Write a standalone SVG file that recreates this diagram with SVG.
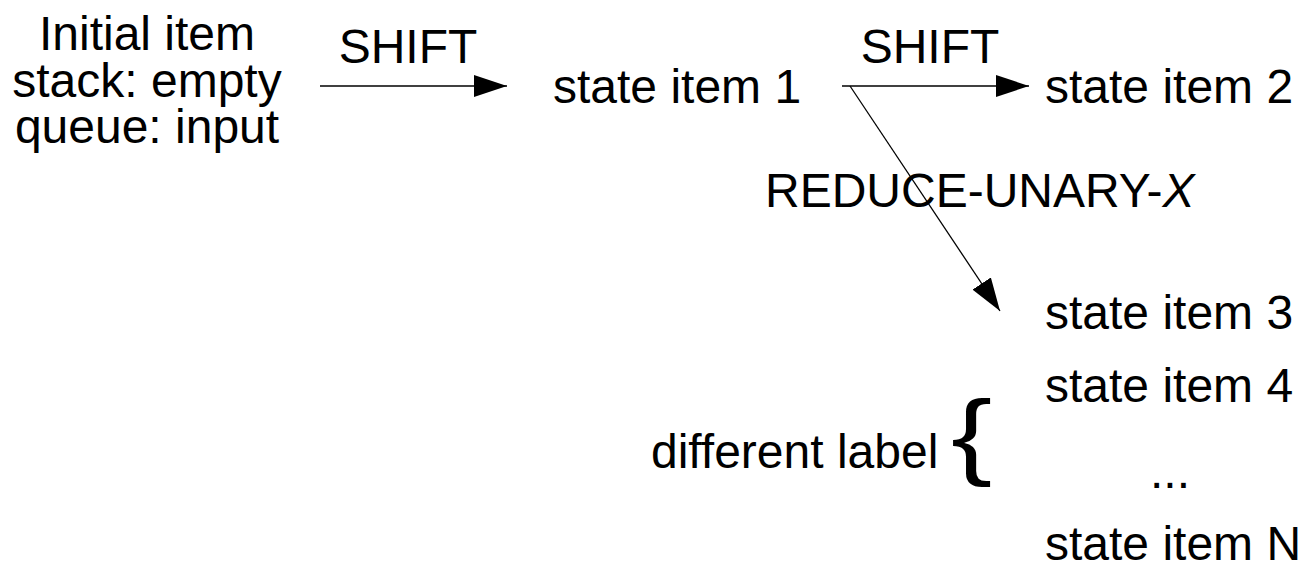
<svg xmlns="http://www.w3.org/2000/svg" width="1301" height="564" viewBox="0 0 1301 564">
<style>
text{font-family:"Liberation Sans",Arial,sans-serif;font-size:48px;fill:#000}
.c{stroke:#000;stroke-width:1.3;fill:none}
</style>
<defs>
<marker id="ah" markerUnits="userSpaceOnUse" markerWidth="34" markerHeight="22" refX="33" refY="11" orient="auto" viewBox="0 0 34 22">
<path d="M0,0 L33,11 L0,22 z" fill="#000"/>
</marker>
</defs>
<rect width="1301" height="564" fill="#fff"/>
<g id="connectors">
<line class="c" x1="320" y1="86" x2="507" y2="86" marker-end="url(#ah)"/>
<line class="c" x1="842" y1="86" x2="1029" y2="86" marker-end="url(#ah)"/>
<line class="c" x1="850" y1="86" x2="1000" y2="311" marker-end="url(#ah)"/>
<text x="408" y="63" text-anchor="middle">SHIFT</text>
<text x="930" y="63" text-anchor="middle">SHIFT</text>
<text x="765" y="207">REDUCE-UNARY-<tspan font-style="italic">X</tspan></text>
</g>
<g id="initial">
<text x="147" y="50" text-anchor="middle">Initial item</text>
<text x="147" y="97" text-anchor="middle">stack: empty</text>
<text x="147" y="143" text-anchor="middle">queue: input</text>
</g>
<g id="state1"><text x="553" y="103">state item 1</text></g>
<g id="state2"><text x="1045" y="103">state item 2</text></g>
<g id="state3"><text x="1045" y="329">state item 3</text></g>
<g id="state4"><text x="1045" y="402">state item 4</text></g>
<g id="dots"><text x="1170" y="488" text-anchor="middle">...</text></g>
<g id="stateN"><text x="1045" y="560">state item N</text></g>
<g id="label">
<text x="651" y="468">different label</text>
<text transform="translate(951,467) scale(1.3,1)" x="0" y="0" style="font-size:95px">{</text>
</g>
</svg>
